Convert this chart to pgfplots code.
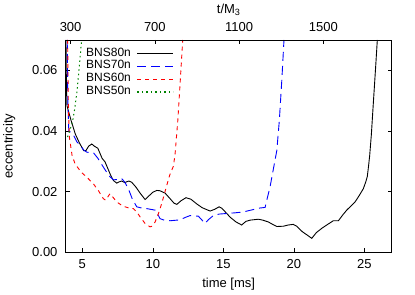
\documentclass[border=0pt]{standalone}
\usepackage{fontspec}
\setmainfont{Liberation Sans}
\usepackage{pgfplots}
\pgfplotsset{compat=1.18}
\usetikzlibrary{calc}

\pgfplotstableread{
t e
3.84 0.0700
3.87 0.0550
3.91 0.0483
4.20 0.0435
4.50 0.0390
4.80 0.0360
5.10 0.0335
5.25 0.0335
5.45 0.0350
5.67 0.0357
5.85 0.0350
6.10 0.0343
6.40 0.0310
6.61 0.0298
7.00 0.0255
7.20 0.0237
7.44 0.0228
7.60 0.0232
7.79 0.0235
8.00 0.0230
8.30 0.0235
8.50 0.0231
8.80 0.0215
9.10 0.0195
9.45 0.0174
9.70 0.0185
10.00 0.0198
10.28 0.0204
10.50 0.0203
10.87 0.0195
11.20 0.0178
11.50 0.0162
11.70 0.0158
12.00 0.0170
12.35 0.0180
12.70 0.0175
13.10 0.0160
13.50 0.0147
14.06 0.0136
14.40 0.0142
14.70 0.0150
14.90 0.0145
15.24 0.0128
15.50 0.0115
15.90 0.0100
16.30 0.0090
16.60 0.0102
16.90 0.0106
17.48 0.0109
17.80 0.0106
18.19 0.0100
18.50 0.0092
18.79 0.0085
19.26 0.0086
19.60 0.0090
19.96 0.0092
20.20 0.0086
20.60 0.0068
21.00 0.0055
21.27 0.0046
21.60 0.0065
21.98 0.0079
22.40 0.0092
22.80 0.0104
23.16 0.0104
23.50 0.0125
23.75 0.0139
24.10 0.0155
24.34 0.0166
24.65 0.0188
24.93 0.0210
25.10 0.0232
25.21 0.0250
25.30 0.0285
25.38 0.0320
25.50 0.0390
25.64 0.0494
25.80 0.0610
25.92 0.0700
}\bnseighty

\pgfplotstableread{
t e
3.93 0.0700
3.97 0.0500
4.04 0.0400
4.20 0.0395
4.39 0.0385
4.60 0.0365
4.86 0.0352
5.10 0.0337
5.33 0.0330
5.81 0.0327
6.10 0.0310
6.49 0.0281
6.90 0.0252
7.20 0.0239
7.50 0.0240
7.79 0.0243
8.00 0.0232
8.26 0.0210
8.55 0.0175
8.86 0.0150
9.20 0.0146
9.57 0.0144
10.16 0.0139
10.35 0.0125
10.51 0.0111
10.80 0.0106
11.22 0.0104
11.93 0.0107
12.30 0.0115
12.64 0.0121
13.23 0.0119
13.45 0.0108
13.70 0.0095
13.95 0.0108
14.29 0.0121
14.70 0.0126
15.24 0.0128
15.80 0.0130
16.42 0.0133
17.13 0.0141
17.60 0.0146
17.96 0.0148
18.15 0.0185
18.31 0.0215
18.55 0.0275
18.79 0.0335
18.97 0.0434
19.15 0.0570
19.30 0.0700
}\bnsseventy

\pgfplotstableread{
t e
3.96 0.0700
4.00 0.0500
4.08 0.0380
4.27 0.0320
4.48 0.0292
4.90 0.0265
5.31 0.0248
5.78 0.0226
6.13 0.0204
6.49 0.0177
6.65 0.0172
6.96 0.0193
7.20 0.0180
7.44 0.0166
7.79 0.0155
8.03 0.0150
8.30 0.0146
8.62 0.0144
8.86 0.0133
9.09 0.0117
9.45 0.0095
9.80 0.0084
9.95 0.0086
10.16 0.0100
10.40 0.0128
10.63 0.0161
10.99 0.0221
11.20 0.0255
11.45 0.0283
11.57 0.0320
11.77 0.0434
11.95 0.0570
12.12 0.0700
}\bnssixty

\pgfplotstableread{
t e
3.95 0.0380
4.10 0.0400
4.30 0.0430
4.45 0.0470
4.62 0.0530
4.78 0.0610
4.95 0.0700
}\bnsfifty

\definecolor{gpgreen}{RGB}{0,130,0}

\begin{document}
\begin{tikzpicture}[font=\fontsize{13bp}{15bp}\selectfont]
\begin{axis}[
  name=main,
  scale only axis,
  width=326bp, height=212.3bp,
  xmin=3.82, xmax=26.94,
  ymin=0, ymax=0.07,
  xtick={5,10,15,20,25},
  ytick={0,0.02,0.04,0.06},
  xtick pos=left,
  ytick pos=both,
  tick align=inside,
  major tick length=4bp,
  tick style={black, line width=0.6bp},
  axis line style={line width=0.8bp},
  /pgf/number format/assume math mode=true,
  yticklabel style={xshift=-4.7bp, /pgf/number format/.cd, fixed, fixed zerofill, precision=2},
  xticklabel style={yshift=-4bp},
  scaled y ticks=false,
  xlabel={time [ms]},
  xlabel style={yshift=-2bp},
  ylabel={eccentricity},
  ylabel shift=10bp,
  legend plot pos=right,
  legend cell align=left,
  legend style={at={(rel axis cs:0,1)}, anchor=north west, xshift=20.3bp, yshift=-7bp,
    draw=none, fill=none, inner sep=0pt, font=\fontsize{12bp}{13bp}\selectfont,
    row sep=0bp, column sep=6bp,
    nodes={inner sep=0bp, text height=9bp, text depth=3.8bp}},
  legend image code/.code={\draw[#1, line width=1.2bp] (0bp,0bp) -- (36bp,0bp);},
]
\addplot[black, line width=0.9bp] table[x=t,y=e] {\bnseighty};
\addlegendentry{BNS80n}
\addplot[blue, line width=0.9bp, dash pattern=on 9bp off 5bp] table[x=t,y=e] {\bnsseventy};
\addlegendentry{BNS70n}
\addplot[red, line width=0.9bp, dash pattern=on 4bp off 4bp] table[x=t,y=e] {\bnssixty};
\addlegendentry{BNS60n}
\addplot[gpgreen, line width=1bp, dash pattern=on 1.5bp off 3bp] table[x=t,y=e] {\bnsfifty};
\addlegendentry{BNS50n}
\end{axis}
\begin{axis}[
  at={(main.south west)}, anchor=south west,
  scale only axis,
  width=326bp, height=212.3bp,
  xmin=276.7, xmax=1824.6,
  ymin=0, ymax=1,
  ytick=\empty,
  xtick={300,700,1100,1500},
  xtick pos=right,
  tick align=inside,
  major tick length=4bp,
  tick style={black, line width=0.6bp},
  axis line style={line width=0.8bp},
  /pgf/number format/assume math mode=true,
  /pgf/number format/1000 sep={},
  xticklabel style={yshift=5bp},
  xlabel={t/M\textsubscript{3}},
  xlabel near ticks,
  xlabel style={yshift=0bp},
]
\end{axis}
\pgfresetboundingbox
\path[use as bounding box] ($(main.south west)+(-65.7bp,-42.7bp)$) rectangle ($(main.north east)+(23.3bp,40bp)$);
\end{tikzpicture}
\end{document}
